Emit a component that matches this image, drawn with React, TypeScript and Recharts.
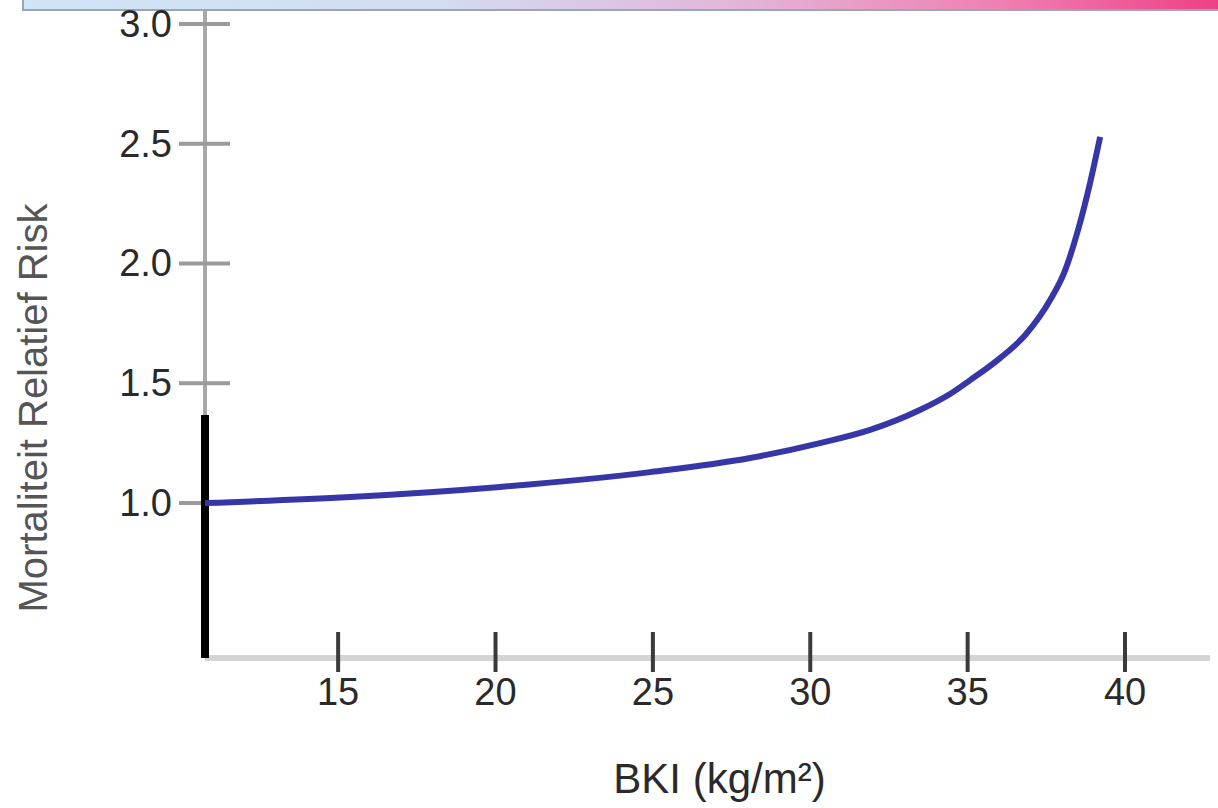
import React from 'react';
import { LineChart, Line, XAxis, YAxis } from 'recharts';

// BMI (kg/m²) values along the curve
const bmiValues = [10.77, 15.38, 20.14, 24.91, 28.09, 30.31, 31.9, 33.48, 34.44, 35.08, 36.03, 36.83, 37.62, 38.1, 38.48, 38.89, 39.21];
// Relative mortality risk at those BMI values
const riskValues = [1.0, 1.025, 1.067, 1.129, 1.188, 1.25, 1.305, 1.388, 1.455, 1.513, 1.605, 1.701, 1.847, 1.972, 2.127, 2.336, 2.528];

const xTicks = [15, 20, 25, 30, 35, 40];
const yTicks = [1.0, 1.5, 2.0, 2.5, 3.0];
const xDomain = [10.77, 42.7];
const yDomain = [0.353, 3.058];
// black reference bar on the y axis (from axis bottom up to this risk value)
const referenceBarRisk = [0.353, 1.367];

const xTitle = 'BKI (kg/m²)';
const yTitle = 'Mortaliteit Relatief Risk';

const data = bmiValues.map((b, i) => ({ bmi: b, risk: riskValues[i] }));
const barData = referenceBarRisk.map((r) => ({ bmi: xDomain[0], bar: r }));

const FONT = '"Liberation Sans", Arial, sans-serif';

const XTick = (props: any) => {
  const { x, y, payload } = props;
  return (
    <g>
      <line x1={x} x2={x} y1={y - 26} y2={y + 14} stroke="#3a3a3a" strokeWidth={4} />
      <text x={x} y={y + 47} textAnchor="middle" fontSize={38} fill="#2a2a2a" fontFamily={FONT}>
        {payload.value}
      </text>
    </g>
  );
};

const YTick = (props: any) => {
  const { x, y, payload } = props;
  return (
    <g>
      <line x1={x - 26} x2={x + 25} y1={y} y2={y} stroke="#9a9a9a" strokeWidth={4} />
      <text x={x - 33} y={y + 13} textAnchor="end" fontSize={38} fill="#2a2a2a" fontFamily={FONT}>
        {Number(payload.value).toFixed(1)}
      </text>
    </g>
  );
};

const XTitle = (props: any) => {
  const vb = props.viewBox || props;
  const cx = vb.x + vb.width / 2 + 12;
  const cy = vb.y + 135;
  return (
    <text x={cx} y={cy} textAnchor="middle" fontSize={42} fill="#2a2a2a" fontFamily={FONT}>
      {xTitle}
    </text>
  );
};

const YTitle = (props: any) => {
  const vb = props.viewBox || props;
  const cx = vb.x + 47;
  const cy = vb.y + vb.height / 2 + 74;
  return (
    <text
      x={cx}
      y={cy}
      textAnchor="middle"
      fontSize={40}
      fill="#555555"
      fontFamily={FONT}
      transform={`rotate(-90, ${cx}, ${cy})`}
    >
      {yTitle}
    </text>
  );
};

export default function App() {
  const lineZ: any = { zIndex: 2000 };
  return (
    <div style={{ position: 'absolute', left: 0, top: 0, width: 1218, height: 808, background: '#ffffff', fontFamily: FONT }}>
      <div
        style={{
          position: 'absolute',
          left: 22,
          top: 0,
          width: 1196,
          height: 9,
          background: 'linear-gradient(to right, #cfe6f7 0%, #d3dcf1 35%, #e3b4d8 60%, #ef7fb0 82%, #ee3f85 100%)',
          borderBottom: '2px solid #9aa6b4',
          borderLeft: '2px solid #9aa6b4',
        }}
      />
      <LineChart
        width={1218}
        height={808}
        data={data}
        margin={{ top: 10, right: 8, left: 0, bottom: 0 }}
        style={{ position: 'absolute', left: 0, top: 0 }}
      >
        <XAxis
          dataKey="bmi"
          type="number"
          domain={xDomain}
          ticks={xTicks}
          interval={0}
          height={150}
          tickSize={0}
          tickMargin={0}
          tickLine={false}
          axisLine={{ stroke: '#d4d4d4', strokeWidth: 6 }}
          tick={(p: any) => <XTick {...p} />}
          label={(p: any) => <XTitle {...p} />}
        />
        <YAxis
          type="number"
          domain={yDomain}
          ticks={yTicks}
          interval={0}
          width={205}
          tickSize={0}
          tickMargin={0}
          tickLine={false}
          axisLine={{ stroke: '#a8a8a8', strokeWidth: 4 }}
          tick={(p: any) => <YTick {...p} />}
          label={(p: any) => <YTitle {...p} />}
        />
        <Line
          {...lineZ}
          data={barData}
          type="linear"
          dataKey="bar"
          stroke="#000000"
          strokeWidth={8}
          strokeLinecap="butt"
          dot={false}
          isAnimationActive={false}
        />
        <Line
          {...lineZ}
          type="monotone"
          dataKey="risk"
          stroke="#3636a8"
          strokeWidth={6}
          dot={false}
          isAnimationActive={false}
        />
      </LineChart>
    </div>
  );
}
